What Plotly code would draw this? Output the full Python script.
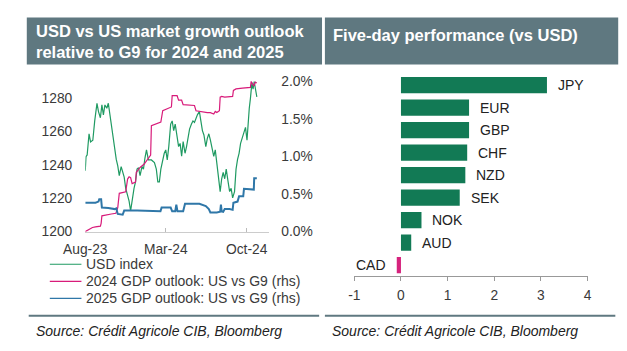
import plotly.graph_objects as go

W, H = 627, 351
FONT = "Liberation Sans, Arial, sans-serif"
SLATE = "#5f7880"

# ---------------- Left chart data ----------------
usd_dates = ["2023-08-01","2023-08-03","2023-08-06","2023-08-11","2023-08-15","2023-08-21","2023-08-26",
             "2023-09-01","2023-09-05","2023-09-10","2023-09-14","2023-09-18","2023-09-22","2023-09-27",
             "2023-10-01","2023-10-05","2023-10-09","2023-10-14","2023-10-18","2023-10-22","2023-10-26",
             "2023-10-30","2023-11-04","2023-11-08","2023-11-12","2023-11-16","2023-11-21","2023-11-25",
             "2023-11-29","2023-12-03","2023-12-08","2023-12-12","2023-12-16","2023-12-20","2023-12-24",
             "2023-12-29","2024-01-02","2024-01-06","2024-01-10","2024-01-15","2024-01-23","2024-01-31",
             "2024-02-05","2024-02-09","2024-02-13","2024-02-17","2024-02-22","2024-02-26","2024-03-01",
             "2024-03-05","2024-03-09","2024-03-14","2024-03-18","2024-03-22","2024-03-26","2024-03-31",
             "2024-04-04","2024-04-08","2024-04-12","2024-04-16","2024-04-21","2024-04-25","2024-04-29",
             "2024-05-03","2024-05-08","2024-05-12","2024-05-16","2024-05-20","2024-05-24","2024-05-29",
             "2024-06-02","2024-06-06","2024-06-10","2024-06-15","2024-06-19","2024-06-23","2024-06-27",
             "2024-07-02","2024-07-06","2024-07-10","2024-07-14","2024-07-18","2024-07-23","2024-07-27",
             "2024-07-31","2024-08-04","2024-08-08","2024-08-13","2024-08-17","2024-08-21","2024-08-25",
             "2024-08-30","2024-09-03","2024-09-07","2024-09-11","2024-09-15","2024-09-20","2024-09-24",
             "2024-09-28","2024-10-02","2024-10-05","2024-10-08","2024-10-11","2024-10-15","2024-10-18",
             "2024-10-21","2024-10-24","2024-10-28"]
usd_index = [1236.5,1245,1246,1258.7,1253.8,1254.8,1266.4,
             1276.9,1272,1268.3,1276,1270,1276,1274,
             1277,1270,1264.5,1256.7,1250,1243.3,1239.4,
             1233.6,1239,1236.5,1232.7,1226,1222,1218.3,
             1212.5,1220.2,1226,1229.8,1237.5,1238.3,1233.6,
             1239,1237.5,1244.3,1249,1243,1243,1241.4,
             1237.5,1229.8,1229.8,1237.5,1243.3,1247,1249,
             1243,1251,1264.5,1266.4,1260.6,1264.5,1256.7,
             1251,1252.9,1245.2,1254,1247,1251,1256.7,
             1261.5,1264.5,1266.4,1265.5,1268.3,1270.2,1272,
             1266.4,1260.6,1258,1251,1256,1258.7,1255,
             1249,1245.2,1249,1241.4,1231.7,1224,1231.7,
             1235.6,1231.7,1237.5,1229.8,1224,1226,1220.2,
             1224,1237.5,1243.3,1247,1252.9,1256.7,1258.7,
             1262.5,1254.8,1266,1274,1279.8,1289.4,1285.5,
             1290,1286,1280.8]

gdp24_dates = ["2023-08-01","2023-08-11","2023-08-20","2023-08-28","2023-09-10","2023-09-12","2023-09-14",
               "2023-10-09","2023-10-21","2023-10-26","2023-10-30","2023-11-16","2023-11-21","2023-11-25",
               "2023-11-29","2023-12-03","2023-12-12","2023-12-14","2023-12-24","2024-01-04","2024-01-10",
               "2024-01-19","2024-01-21","2024-01-23","2024-02-09","2024-02-17","2024-02-22","2024-03-05",
               "2024-03-16","2024-03-18","2024-03-31","2024-04-04","2024-04-12","2024-04-16","2024-05-12",
               "2024-05-16","2024-05-20","2024-06-06","2024-06-19","2024-06-27","2024-07-06","2024-07-10",
               "2024-07-14","2024-07-18","2024-07-21","2024-07-23","2024-07-27","2024-08-04","2024-08-17",
               "2024-08-25","2024-08-27","2024-09-03","2024-09-20","2024-10-11","2024-10-13","2024-10-17",
               "2024-10-20","2024-10-24","2024-10-28"]
gdp24 = [0.0,0.03,0.055,0.064,0.073,0.11,0.21,
         0.235,0.245,0.32,0.51,0.53,0.70,0.73,
         0.72,0.64,0.66,0.79,0.855,0.90,0.94,
         1.00,1.02,1.41,1.45,1.46,1.61,1.64,
         1.66,1.81,1.81,1.75,1.75,1.69,1.69,
         1.68,1.61,1.59,1.585,1.585,1.565,1.60,
         1.585,1.60,1.61,1.79,1.80,1.79,1.79,
         1.80,1.88,1.90,1.91,1.92,2.00,1.97,
         1.94,1.99,1.98]

gdp25_dates = ["2023-08-01","2023-08-28","2023-09-05","2023-09-07","2023-09-12","2023-09-14","2023-10-01",
               "2023-10-18","2023-10-22","2023-10-25","2023-10-26","2023-11-08","2023-11-12","2023-12-16",
               "2024-01-02","2024-01-15","2024-02-09","2024-02-16","2024-02-19","2024-03-14","2024-03-18",
               "2024-03-26","2024-03-29","2024-04-01","2024-04-16","2024-04-21","2024-05-29","2024-06-10",
               "2024-06-15","2024-06-23","2024-06-27","2024-07-14","2024-07-23","2024-07-25","2024-07-27",
               "2024-07-31","2024-08-04","2024-08-17","2024-08-25","2024-08-27","2024-09-03","2024-09-07",
               "2024-09-11","2024-09-22","2024-09-24","2024-10-15","2024-10-20","2024-10-21","2024-10-28"]
gdp25 = [0.385,0.385,0.40,0.43,0.43,0.32,0.315,
         0.30,0.31,0.27,0.235,0.225,0.28,0.28,
         0.28,0.275,0.27,0.27,0.32,0.32,0.27,
         0.27,0.36,0.27,0.27,0.37,0.37,0.35,
         0.34,0.30,0.256,0.256,0.265,0.36,0.27,
         0.265,0.30,0.30,0.29,0.385,0.39,0.40,
         0.47,0.47,0.57,0.57,0.56,0.71,0.71]

x_tick_vals = ["2023-08-01", "2024-03-01", "2024-10-01"]
x_tick_text = ["Aug-23", "Mar-24", "Oct-24"]
left_ticks = [1200, 1220, 1240, 1260, 1280]
right_ticks = [0.0, 0.5, 1.0, 1.5, 2.0]
right_tick_text = ["0.0%", "0.5%", "1.0%", "1.5%", "2.0%"]

series_names = ["USD index", "2024 GDP outlook: US vs G9 (rhs)", "2025 GDP outlook: US vs G9 (rhs)"]
series_colors = ["#1f9a62", "#d81b7a", "#2f77a8"]

# ---------------- Right chart data ----------------
currencies = ["CAD", "AUD", "NOK", "SEK", "NZD", "CHF", "GBP", "EUR", "JPY"]
performance = [-0.09, 0.22, 0.44, 1.26, 1.38, 1.42, 1.46, 1.46, 3.13]
perf_ticks = [-1, 0, 1, 2, 3, 4]
perf_tick_text = ["-1", "0", "1", "2", "3", "4"]

# ---------------- Figure ----------------
def px_x(p):
    return p / W

def px_y(p):
    return 1 - p / H

fig = go.Figure()

fig.add_trace(go.Scatter(x=usd_dates, y=usd_index, mode="lines", name=series_names[0],
                         line=dict(color=series_colors[0], width=1.2), xaxis="x", yaxis="y",
                         showlegend=False))
fig.add_trace(go.Scatter(x=gdp24_dates, y=gdp24, mode="lines", name=series_names[1],
                         line=dict(color=series_colors[1], width=1.2), xaxis="x", yaxis="y2",
                         showlegend=False))
fig.add_trace(go.Scatter(x=gdp25_dates, y=gdp25, mode="lines", name=series_names[2],
                         line=dict(color=series_colors[2], width=2), xaxis="x", yaxis="y2",
                         showlegend=False))

bar_colors = ["#d6237d" if v < 0 else "#127a55" for v in performance]
fig.add_trace(go.Bar(x=performance, y=currencies, orientation="h",
                     marker=dict(color=bar_colors, line=dict(width=0)),
                     width=0.72, xaxis="x3", yaxis="y3", showlegend=False, hoverinfo="x+y"))

annotations = []
for c, v in zip(currencies, performance):
    annotations.append(dict(x=v, y=c, xref="x3", yref="y3", text=c, showarrow=False,
                            xanchor="left" if v >= 0 else "right", xshift=9 if v >= 0 else -9,
                            font=dict(family=FONT, size=14, color="#222222")))

tick_font = dict(family=FONT, size=13.8, color="#3a3a3a")

fig.update_layout(
    width=W, height=H, margin=dict(l=0, r=0, t=0, b=0),
    paper_bgcolor="white", plot_bgcolor="white",
    xaxis=dict(domain=[px_x(66), px_x(258)], type="date", range=["2023-08-01", "2024-11-30"],
               tickvals=x_tick_vals, ticktext=x_tick_text, ticks="inside", ticklen=4,
               tickcolor="#bbbbbb", showline=True, linecolor="#cccccc", linewidth=1,
               showgrid=False, zeroline=False, tickfont=tick_font, anchor="y", ticklabelstandoff=5),
    yaxis=dict(domain=[px_y(235), px_y(77)], range=[1200, 1291], tickvals=left_ticks,
               showgrid=False, zeroline=False, showline=False, tickfont=tick_font,
               ticks="", ticklabelstandoff=12, anchor="x"),
    yaxis2=dict(domain=[px_y(235), px_y(77)], range=[0, 2.02], tickvals=right_ticks,
                ticktext=right_tick_text, overlaying="y", side="right", anchor="x",
                showgrid=False, zeroline=False, showline=False, tickfont=tick_font,
                ticks="", ticklabelstandoff=11),
    xaxis3=dict(domain=[px_x(346.7), px_x(590)], range=[-1, 4], tickvals=perf_ticks,
                ticktext=perf_tick_text,
                ticks="outside", ticklen=4, tickcolor="#999999", showline=True, linecolor="#999999",
                linewidth=1, showgrid=False, zeroline=False, tickfont=tick_font, anchor="y3",
                ticklabelstandoff=2),
    yaxis3=dict(domain=[px_y(281.7), px_y(70.6)], range=[-0.5, 8.5], type="category",
                categoryorder="array", categoryarray=currencies, showticklabels=False,
                showgrid=False, zeroline=False, showline=False, ticks="", anchor="x3"),
    showlegend=False,
)

shapes = [
    dict(type="rect", xref="paper", yref="paper", x0=px_x(5), x1=px_x(313), y0=px_y(61), y1=px_y(12),
         fillcolor=SLATE, line=dict(width=0), layer="below"),
    dict(type="rect", xref="paper", yref="paper", x0=px_x(316), x1=px_x(622), y0=px_y(61), y1=px_y(12),
         fillcolor=SLATE, line=dict(width=0), layer="below"),
    dict(type="line", xref="paper", yref="paper", x0=px_x(7), x1=px_x(310), y0=px_y(322.5), y1=px_y(322.5),
         line=dict(color=SLATE, width=2)),
    dict(type="line", xref="paper", yref="paper", x0=px_x(316), x1=px_x(619), y0=px_y(322.5), y1=px_y(322.5),
         line=dict(color=SLATE, width=2)),
]

# legend (manual, left chart)
legend_y = [269, 286.8, 304.6]
for name, col, ly in zip(series_names, series_colors, legend_y):
    shapes.append(dict(type="line", xref="paper", yref="paper", x0=px_x(29), x1=px_x(62),
                       y0=px_y(ly), y1=px_y(ly), line=dict(color=col, width=1.2)))
    annotations.append(dict(x=px_x(65), y=px_y(ly), xref="paper", yref="paper", text=name,
                            showarrow=False, xanchor="left", yanchor="middle",
                            font=dict(family=FONT, size=14, color="#3a3a3a")))

title_font = dict(family=FONT, size=16.5, color="white")
annotations += [
    dict(x=px_x(13), y=px_y(26), xref="paper", yref="paper", showarrow=False, xanchor="left",
         yanchor="middle", text="<b>USD vs US market growth outlook</b>", font=title_font),
    dict(x=px_x(13), y=px_y(48), xref="paper", yref="paper", showarrow=False, xanchor="left",
         yanchor="middle", text="<b>relative to G9 for 2024 and 2025</b>", font=title_font),
    dict(x=px_x(322), y=px_y(30), xref="paper", yref="paper", showarrow=False, xanchor="left",
         yanchor="middle", text="<b>Five-day performance (vs USD)</b>", font=title_font),
    dict(x=px_x(12), y=px_y(338), xref="paper", yref="paper", showarrow=False, xanchor="left",
         yanchor="middle", text="<i>Source: Crédit Agricole CIB, Bloomberg</i>",
         font=dict(family=FONT, size=14, color="#222222")),
    dict(x=px_x(321), y=px_y(338), xref="paper", yref="paper", showarrow=False, xanchor="left",
         yanchor="middle", text="<i>Source: Crédit Agricole CIB, Bloomberg</i>",
         font=dict(family=FONT, size=14, color="#222222")),
]

fig.update_layout(shapes=shapes, annotations=annotations)
fig.write_html("out.html")
